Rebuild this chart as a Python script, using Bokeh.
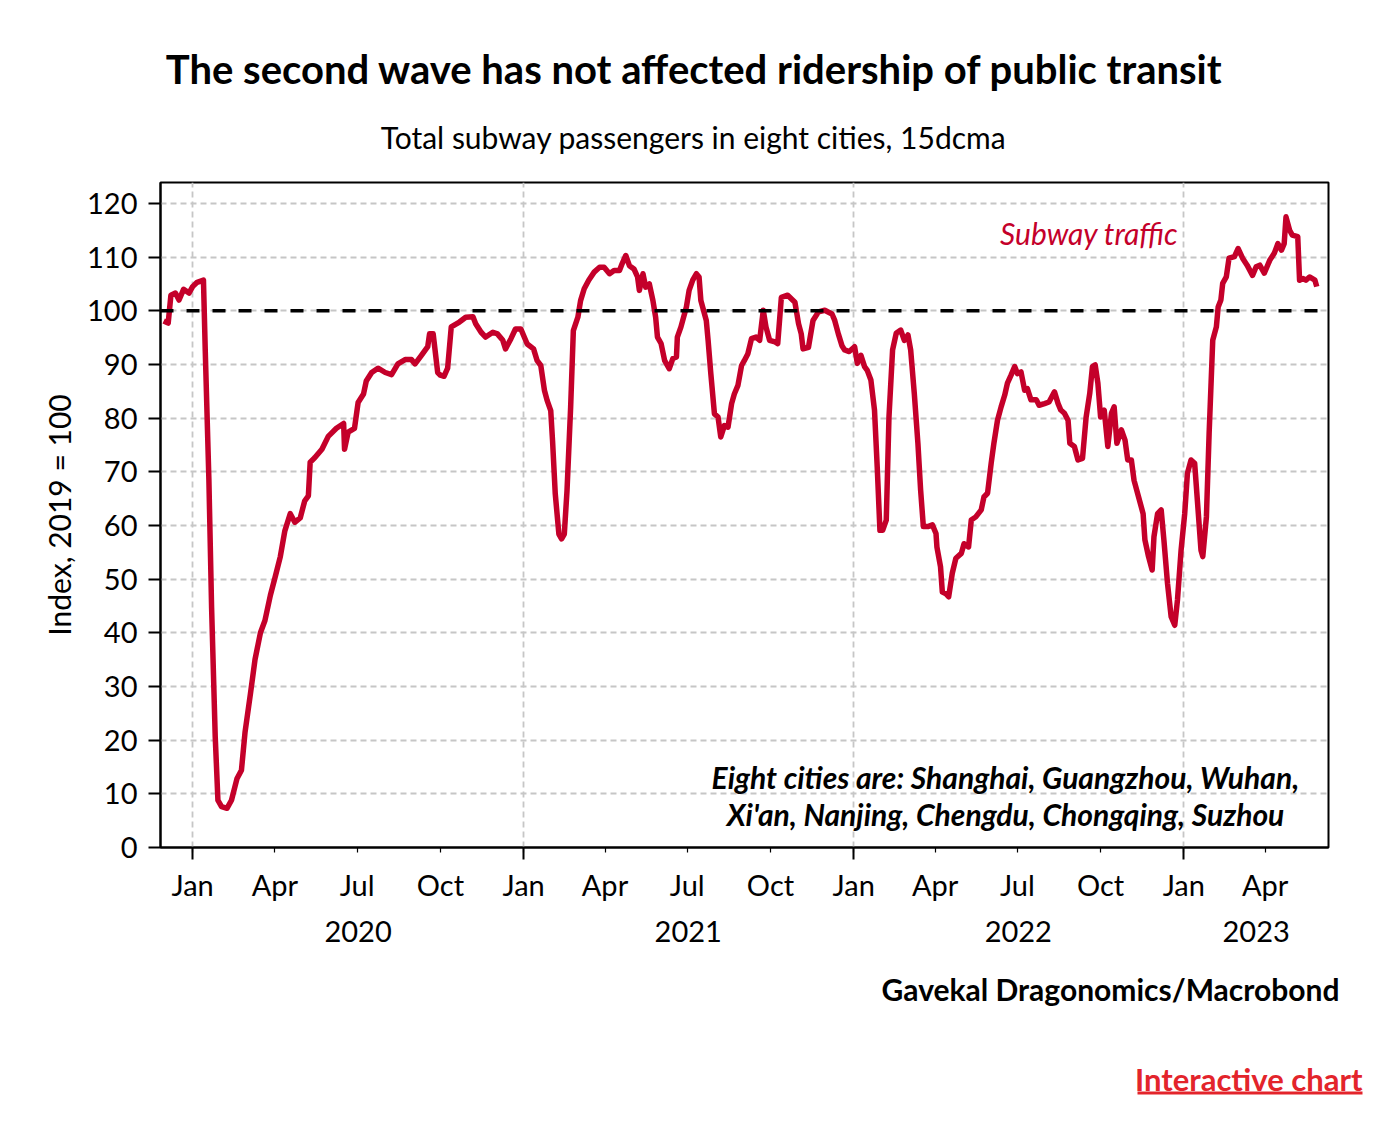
import pandas as pd
from bokeh.plotting import figure
from bokeh.layouts import column
from bokeh.models import (Range1d, FixedTicker, DatetimeAxis, DatetimeTickFormatter,
                          Span, Label, BoxAnnotation)
from bokeh.embed import file_html
from bokeh.resources import INLINE

# ---------------- data ----------------
dates = [
    "2019-11-30", "2019-12-05", "2019-12-08", "2019-12-13", "2019-12-17", "2019-12-22", "2019-12-28",
    "2020-01-01", "2020-01-06", "2020-01-13", "2020-01-15", "2020-01-19", "2020-01-22", "2020-01-26",
    "2020-01-29", "2020-02-02", "2020-02-08", "2020-02-13", "2020-02-19", "2020-02-24", "2020-02-28",
    "2020-03-05", "2020-03-10", "2020-03-16", "2020-03-21", "2020-03-27", "2020-04-01", "2020-04-07",
    "2020-04-12", "2020-04-18", "2020-04-23", "2020-04-29", "2020-05-04", "2020-05-08", "2020-05-10",
    "2020-05-15", "2020-05-23", "2020-05-30", "2020-06-08", "2020-06-16", "2020-06-17", "2020-06-21",
    "2020-06-28", "2020-07-02", "2020-07-08", "2020-07-11", "2020-07-17", "2020-07-24", "2020-08-01",
    "2020-08-08", "2020-08-15", "2020-08-23", "2020-08-30", "2020-09-03", "2020-09-10", "2020-09-17",
    "2020-09-19", "2020-09-23", "2020-09-28",
    "2020-10-01", "2020-10-05", "2020-10-09", "2020-10-13", "2020-10-22", "2020-10-29", "2020-11-06",
    "2020-11-09", "2020-11-15", "2020-11-20", "2020-11-28", "2020-12-03", "2020-12-09", "2020-12-12",
    "2020-12-18", "2020-12-23", "2020-12-29", "2021-01-01", "2021-01-05", "2021-01-12", "2021-01-16",
    "2021-01-20", "2021-01-24", "2021-01-27", "2021-01-31", "2021-02-02", "2021-02-05", "2021-02-09",
    "2021-02-12", "2021-02-15", "2021-02-18", "2021-02-22", "2021-02-25", "2021-03-02", "2021-03-05",
    "2021-03-09", "2021-03-14", "2021-03-20", "2021-03-26", "2021-03-31", "2021-04-06", "2021-04-11",
    "2021-04-17", "2021-04-20", "2021-04-24", "2021-04-28", "2021-05-03", "2021-05-07", "2021-05-09",
    "2021-05-13", "2021-05-16", "2021-05-20", "2021-05-24", "2021-05-27", "2021-05-29", "2021-06-02",
    "2021-06-06", "2021-06-11", "2021-06-15", "2021-06-19", "2021-06-20", "2021-06-24", "2021-06-30",
    "2021-07-03", "2021-07-07", "2021-07-11", "2021-07-14", "2021-07-16", "2021-07-22", "2021-07-24",
    "2021-07-27", "2021-07-31", "2021-08-04", "2021-08-07", "2021-08-11", "2021-08-15", "2021-08-19",
    "2021-08-22", "2021-08-26", "2021-08-30", "2021-09-02", "2021-09-06", "2021-09-10", "2021-09-15",
    "2021-09-19", "2021-09-23", "2021-09-26", "2021-09-30", "2021-10-06", "2021-10-09", "2021-10-13",
    "2021-10-20", "2021-10-28", "2021-11-01", "2021-11-04", "2021-11-06", "2021-11-12", "2021-11-17",
    "2021-11-23", "2021-11-30", "2021-12-08", "2021-12-11", "2021-12-15",
    "2021-12-19", "2021-12-22", "2021-12-27", "2022-01-02", "2022-01-05", "2022-01-09", "2022-01-13",
    "2022-01-16", "2022-01-20", "2022-01-24", "2022-01-27", "2022-01-30", "2022-02-02", "2022-02-06",
    "2022-02-09", "2022-02-13", "2022-02-17", "2022-02-22", "2022-02-26", "2022-03-02", "2022-03-05",
    "2022-03-09", "2022-03-13", "2022-03-16", "2022-03-19", "2022-03-24", "2022-03-29", "2022-04-02",
    "2022-04-03", "2022-04-07", "2022-04-09", "2022-04-13", "2022-04-16", "2022-04-20", "2022-04-24",
    "2022-04-30", "2022-05-03", "2022-05-08", "2022-05-11", "2022-05-16", "2022-05-22", "2022-05-25",
    "2022-05-29", "2022-06-02", "2022-06-05", "2022-06-09", "2022-06-13", "2022-06-17", "2022-06-20",
    "2022-06-24", "2022-06-28", "2022-07-01", "2022-07-05", "2022-07-09", "2022-07-12", "2022-07-16",
    "2022-07-22", "2022-07-25", "2022-07-31", "2022-08-05", "2022-08-11", "2022-08-15", "2022-08-18",
    "2022-08-22", "2022-08-26", "2022-08-28", "2022-09-02", "2022-09-06", "2022-09-11", "2022-09-15",
    "2022-09-19", "2022-09-22", "2022-09-25", "2022-09-28", "2022-10-01", "2022-10-05", "2022-10-09",
    "2022-10-13", "2022-10-16", "2022-10-19", "2022-10-24", "2022-10-28", "2022-10-31", "2022-11-04",
    "2022-11-07", "2022-11-12", "2022-11-17", "2022-11-19", "2022-11-23",
    "2022-11-27", "2022-11-29", "2022-12-03", "2022-12-07", "2022-12-10", "2022-12-14", "2022-12-18",
    "2022-12-22", "2022-12-25", "2022-12-29", "2023-01-02", "2023-01-05", "2023-01-09", "2023-01-13",
    "2023-01-16", "2023-01-20", "2023-01-22", "2023-01-26", "2023-01-29", "2023-02-02", "2023-02-06",
    "2023-02-08", "2023-02-11", "2023-02-13", "2023-02-17", "2023-02-20", "2023-02-26", "2023-03-02",
    "2023-03-07", "2023-03-12", "2023-03-18", "2023-03-22", "2023-03-26", "2023-03-31", "2023-04-06",
    "2023-04-11", "2023-04-15", "2023-04-19", "2023-04-22", "2023-04-24", "2023-04-28", "2023-05-01",
    "2023-05-07", "2023-05-09", "2023-05-13", "2023-05-16", "2023-05-20", "2023-05-26", "2023-05-28",
]
values = [
    98.1, 97.7, 102.9, 103.3, 102.0, 104.0, 103.3,
    104.5, 105.3, 105.7, 92.5, 68.6, 44.7, 20.7,
    8.8, 7.6, 7.3, 8.8, 12.8, 14.4, 21.5,
    28.7, 35.0, 40.0, 42.3, 47.0, 50.2, 54.2,
    59.0, 62.2, 60.6, 61.4, 64.6, 65.5, 71.8,
    72.6, 74.2, 76.6, 78.1, 79.0, 74.2, 77.4,
    78.1, 82.9, 84.5, 86.9, 88.5, 89.3, 88.5,
    88.1, 90.1, 90.9, 90.9, 90.1, 91.7, 93.3,
    95.7, 95.7, 88.5,
    88.0, 87.8, 89.3, 97.0, 97.9, 98.8, 98.9,
    97.6, 96.0, 95.1, 96.0, 95.7, 94.5, 92.9,
    94.8, 96.6, 96.6, 95.4, 93.8, 92.9, 90.7,
    89.8, 85.2, 83.3, 81.4, 75.8, 65.9, 58.4,
    57.5, 58.4, 66.5, 82.0, 96.3, 98.8, 101.9,
    104.1, 105.7, 107.2, 108.1, 108.1, 106.9, 107.5,
    107.5, 108.8, 110.3, 108.4, 107.8, 106.3, 103.8,
    106.9, 104.4, 105.0, 101.9, 98.8, 95.1, 93.9,
    90.7, 89.2, 91.1, 91.4, 95.1, 97.0, 100.7,
    103.8, 105.7, 106.9, 106.3, 101.9, 98.2, 94.5,
    88.3, 80.8, 80.2, 76.5, 78.6, 78.3, 82.7,
    84.5, 86.1, 89.8, 90.7, 92.0, 94.8, 95.1,
    94.5, 100.1, 97.0, 94.5, 94.2, 93.9, 102.5,
    102.9, 101.6, 97.6, 95.7, 92.9, 93.2, 98.2,
    99.8, 100.1, 99.4, 98.2, 95.7,
    93.5, 92.7, 92.4, 93.3, 90.2, 91.7, 89.6,
    88.9, 87.1, 81.5, 70.9, 59.1, 59.1, 61.0,
    80.2, 92.7, 95.8, 96.4, 94.5, 95.5, 92.7,
    84.6, 75.3, 66.6, 59.8, 59.8, 60.1, 58.5,
    56.0, 52.3, 47.6, 47.3, 46.7, 51.1, 53.9,
    54.8, 56.6, 56.0, 61.0, 61.6, 62.9, 65.3,
    66.0, 71.6, 75.3, 79.6, 82.1, 84.3, 86.5,
    88.0, 89.6, 88.3, 88.6, 85.2, 85.5, 83.4,
    83.4, 82.4, 82.7, 83.0, 84.9, 82.7, 81.5,
    80.9, 79.6, 75.3, 74.7, 72.2, 72.5, 80.2,
    84.6, 89.6, 89.9, 86.5, 80.2, 81.5, 74.7,
    80.9, 82.1, 75.3, 77.8, 75.9, 72.2, 72.2,
    68.4, 65.3, 62.2, 57.3, 54.2,
    51.7, 57.9, 62.2, 62.9, 57.3, 49.2, 43.0,
    41.4, 46.1, 55.4, 62.2, 69.7, 72.2, 71.6,
    64.7, 55.4, 54.2, 61.6, 77.1, 94.5, 97.0,
    100.7, 102.0, 105.1, 106.3, 109.8, 110.1, 111.6,
    109.8, 108.5, 106.6, 108.2, 108.5, 107.0, 109.4,
    110.7, 112.5, 111.3, 112.5, 117.5, 115.0, 114.1,
    113.8, 105.7, 106.0, 105.7, 106.3, 105.7, 104.5,
]
month_ticks = ["2020-01-01", "2020-04-01", "2020-07-01", "2020-10-01",
               "2021-01-01", "2021-04-01", "2021-07-01", "2021-10-01",
               "2022-01-01", "2022-04-01", "2022-07-01", "2022-10-01",
               "2023-01-01", "2023-04-01"]
jan_ticks = ["2020-01-01", "2021-01-01", "2022-01-01", "2023-01-01"]
year_label_pos = ["2020-07-02", "2021-07-02", "2022-07-02", "2023-03-22"]
y_ticks = list(range(0, 121, 10))
reference_level = 100

title = "The second wave has not affected ridership of public transit"
subtitle = "Total subway passengers in eight cities, 15dcma"
series_name = "Subway traffic"
note1 = "Eight cities are: Shanghai, Guangzhou, Wuhan,"
note2 = "Xi'an, Nanjing, Chengdu, Chongqing, Suzhou"
source = "Gavekal Dragonomics/Macrobond"
link_text = "Interactive chart"

# ---------------- style ----------------
FONT = "Lato"
LINE_RED = "#C4002A"
LINK_RED = "#E3242B"
W = 1390
HEAD_H = 180
MAIN_H = 790
FOOT_H = 158
MB_L, MB_R, MB_T, MB_B = 160, 62, 2, 123
X0, X1 = pd.Timestamp("2019-11-26 12:00"), pd.Timestamp("2023-06-10")
Y0, Y1 = 0, 123.9
TICK_SIZE = "29px"


def ms(s):
    return pd.Timestamp(s).value / 1e6


def blank_fig(h):
    f = figure(width=W, height=h, output_backend="svg", toolbar_location=None,
               x_range=Range1d(0, 1), y_range=Range1d(0, 1),
               x_axis_type=None, y_axis_type=None,
               min_border=0, min_border_left=0, min_border_right=0,
               min_border_top=0, min_border_bottom=0)
    f.frame_align = False
    f.outline_line_color = None
    f.grid.visible = False
    f.background_fill_color = "white"
    f.border_fill_color = "white"
    return f


def lab(fig, px, py, text, size, style="normal", align="center", color="black"):
    fig.add_layout(Label(x=px, y=py, x_units="screen", y_units="screen", text=text,
                         text_font=FONT, text_font_size=size, text_font_style=style,
                         text_align=align, text_baseline="middle", text_color=color))


# ---------------- header ----------------
head = blank_fig(HEAD_H)
lab(head, 694, HEAD_H - 68, title, "40px", "bold")
lab(head, 693, HEAD_H - 136, subtitle, "30px")

# ---------------- main chart ----------------
x = pd.to_datetime(dates)

p = figure(width=W, height=MAIN_H, x_axis_type="datetime", output_backend="svg",
           toolbar_location=None, x_range=Range1d(X0, X1), y_range=Range1d(Y0, Y1),
           min_border_left=MB_L, min_border_right=MB_R,
           min_border_top=MB_T, min_border_bottom=MB_B)
p.background_fill_color = "white"
p.border_fill_color = "white"
p.outline_line_color = "black"
p.outline_line_width = 2

p.xgrid.ticker = FixedTicker(ticks=[ms(d) for d in jan_ticks])
p.ygrid.ticker = FixedTicker(ticks=y_ticks)
for g in (p.xgrid[0], p.ygrid[0]):
    g.grid_line_color = "#c6c6c6"
    g.grid_line_dash = "6 4"
    g.grid_line_width = 1.8

ya = p.yaxis[0]
ya.ticker = FixedTicker(ticks=y_ticks)
ya.major_tick_out = 12
ya.major_tick_in = 0
ya.minor_tick_out = 0
ya.minor_tick_in = 0
ya.axis_line_width = 2
ya.major_tick_line_width = 2
ya.major_label_standoff = 11
ya.major_label_text_font = FONT
ya.major_label_text_font_size = TICK_SIZE
ya.major_label_text_color = "black"
ya.axis_label = "Index, 2019 = 100"
ya.axis_label_text_font = FONT
ya.axis_label_text_font_size = "30px"
ya.axis_label_text_font_style = "normal"
ya.axis_label_text_color = "black"
ya.axis_label_standoff = 7

fmt_keys = ["microseconds", "milliseconds", "seconds", "minsec", "minutes",
            "hourmin", "hours", "days", "months", "years"]

# axis carrying the ticks only: long at January, short at other quarters
ta = p.xaxis[0]
ta.ticker = FixedTicker(ticks=[ms(d) for d in jan_ticks],
                        minor_ticks=[ms(d) for d in month_ticks])
ta.formatter = DatetimeTickFormatter(**{k: "%b" for k in fmt_keys})
ta.major_tick_out = 12
ta.major_tick_in = 0
ta.minor_tick_out = 5
ta.minor_tick_in = 0
ta.axis_line_width = 2
ta.major_tick_line_width = 2
ta.minor_tick_line_width = 1.2
ta.minor_tick_line_color = "black"
ta.major_label_standoff = 0
ta.major_label_text_color = None
ta.major_label_text_font_size = "0px"

# month labels
ma = DatetimeAxis(ticker=FixedTicker(ticks=[ms(d) for d in month_ticks]),
                  formatter=DatetimeTickFormatter(**{k: "%b" for k in fmt_keys}))
ma.major_tick_out = 0
ma.major_tick_in = 0
ma.minor_tick_out = 0
ma.minor_tick_in = 0
ma.axis_line_color = None
ma.major_label_standoff = 7
ma.major_label_text_font = FONT
ma.major_label_text_font_size = TICK_SIZE
ma.major_label_text_color = "black"
p.add_layout(ma, "below")

# year labels
yr = DatetimeAxis(ticker=FixedTicker(ticks=[ms(d) for d in year_label_pos]),
                  formatter=DatetimeTickFormatter(**{k: "%Y" for k in fmt_keys}))
yr.major_tick_out = 0
yr.major_tick_in = 0
yr.minor_tick_out = 0
yr.minor_tick_in = 0
yr.axis_line_color = None
yr.major_label_standoff = 16
yr.major_label_text_font = FONT
yr.major_label_text_font_size = TICK_SIZE
yr.major_label_text_color = "black"
p.add_layout(yr, "below")

p.add_layout(Span(location=reference_level, dimension="width", line_color="black",
                  line_dash="13 13", line_width=3.5))

p.line(x=x, y=values, line_color=LINE_RED, line_width=5.5, line_join="round")

lab(p, 1178 - MB_L, 847 - 232, series_name, "30px", "italic", "right", LINE_RED)
lab(p, 1005 - MB_L, 847 - 776, note1, "30px", "bold italic")
lab(p, 1005 - MB_L, 847 - 813, note2, "30px", "bold italic")

# ---------------- footer ----------------
FOOT_TOP = HEAD_H + MAIN_H
foot = blank_fig(FOOT_H)
lab(foot, 1339, FOOT_TOP + FOOT_H - 988, source, "30px", "bold", "right")
lab(foot, 1362, FOOT_TOP + FOOT_H - 1078, link_text, "31px", "bold", "right", LINK_RED)
foot.add_layout(BoxAnnotation(left=1137, right=1362,
                              bottom=FOOT_TOP + FOOT_H - 1094, top=FOOT_TOP + FOOT_H - 1091,
                              left_units="screen", right_units="screen",
                              top_units="screen", bottom_units="screen",
                              fill_color=LINK_RED, fill_alpha=1, line_color=None))

layout = column(head, p, foot, spacing=0)
open("out.html", "w").write(file_html(layout, INLINE))
